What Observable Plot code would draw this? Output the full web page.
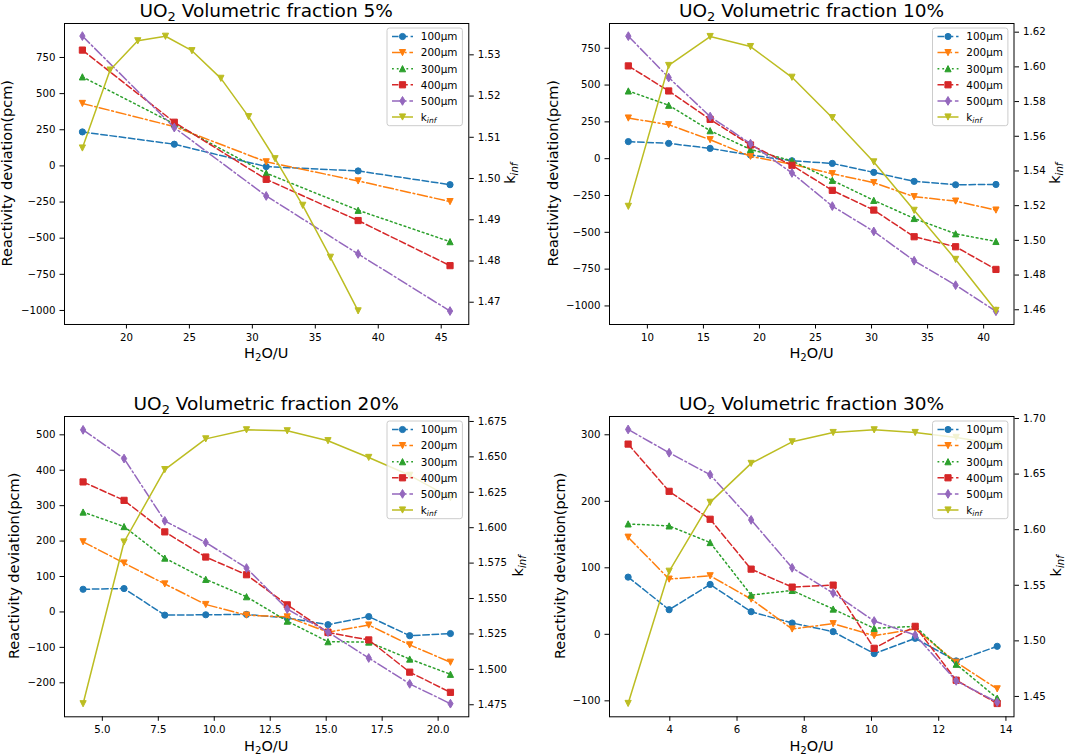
<!DOCTYPE html>
<html><head><meta charset="utf-8">
<script src="https://cdn.jsdelivr.net/npm/d3@7"></script>
<script src="https://cdn.jsdelivr.net/npm/@observablehq/plot@0.6"></script>
<style>
body{margin:0;background:#fff}
#root{position:relative;width:1065px;height:754px;overflow:hidden;font-family:"DejaVu Sans"}
#root svg{position:absolute}
</style>
</head><body><div id="root"></div>
<script>
// ---------- data ----------
const sizes = ["100µm","200µm","300µm","400µm","500µm"];
const fractions = ["5%","10%","20%","30%"];

// 5 %
const x5 = [16.5, 23.8, 31.1, 38.4, 45.7];
const dev5 = [
  [235, 150, -5, -35, -130],
  [432, 272, 28, -104, -247],
  [616, 290, -50, -307, -524],
  [801, 302, -93, -378, -690],
  [898, 265, -208, -609, -1004]
];
const kx5 = [16.5, 18.7, 20.9, 23.1, 25.2, 27.5, 29.7, 31.8, 34.0, 36.2, 38.4];
const k5 = [1.5074, 1.5263, 1.5334, 1.5345, 1.5310, 1.5243, 1.5150, 1.5048, 1.4935, 1.4809, 1.4679];

// 10 %
const x10 = [8.3, 11.9, 15.6, 19.2, 22.9, 26.5, 30.2, 33.8, 37.5, 41.1];
const dev10 = [
  [116, 104, 70, 25, -14, -32, -93, -154, -177, -175],
  [276, 231, 129, 16, -38, -102, -163, -258, -288, -349],
  [460, 363, 190, 63, -15, -147, -283, -406, -510, -562],
  [630, 460, 267, 93, -45, -215, -349, -530, -598, -752],
  [832, 551, 286, 102, -97, -322, -494, -693, -859, -1036]
];
const k10 = [1.5196, 1.6008, 1.6175, 1.6117, 1.5940, 1.5707, 1.5452, 1.5173, 1.4890, 1.4596];

// 20 %
const x20 = [4.14, 5.97, 7.79, 9.62, 11.44, 13.26, 15.08, 16.9, 18.73, 20.55];
const dev20 = [
  [64, 66, -9, -8, -7, -17, -36, -13, -67, -61],
  [198, 138, 79, 21, -9, -14, -57, -37, -93, -142],
  [282, 241, 152, 92, 43, -26, -84, -85, -133, -176],
  [367, 315, 226, 155, 105, 20, -58, -79, -170, -227],
  [514, 433, 257, 196, 124, 8, -57, -130, -203, -259]
];
const k20 = [1.4757, 1.5899, 1.6410, 1.6627, 1.6691, 1.6684, 1.6614, 1.6496, 1.6370, 1.6212];

// 30 %
const x30 = [2.76, 3.98, 5.2, 6.42, 7.64, 8.86, 10.08, 11.3, 12.52, 13.74];
const dev30 = [
  [86, 37, 75, 34, 17, 4, -29, -6, -40, -18],
  [146, 83, 88, 53, 8, 16, -2, 8, -42, -82],
  [166, 163, 138, 59, 66, 38, 9, 12, -45, -96],
  [286, 215, 173, 98, 71, 74, -21, 12, -69, -104],
  [308, 273, 240, 172, 100, 62, 20, -1, -70, -102]
];
const k30 = [1.4437, 1.5626, 1.6246, 1.6596, 1.6790, 1.6874, 1.6898, 1.6874, 1.6830, 1.6770];

// tick values
const xTicks5 = [20, 25, 30, 35, 40, 45];
const xTicks10 = [10, 15, 20, 25, 30, 35, 40];
const xTicks20 = [5, 7.5, 10, 12.5, 15, 17.5, 20];
const xTicks30 = [4, 6, 8, 10, 12, 14];
const yTicksBig = [-1000, -750, -500, -250, 0, 250, 500, 750];
const yTicks20 = [-200, -100, 0, 100, 200, 300, 400, 500];
const yTicks30 = [-100, 0, 100, 200, 300];
const kTicks5 = [1.47, 1.48, 1.49, 1.50, 1.51, 1.52, 1.53];
const kTicks10 = [1.46, 1.48, 1.50, 1.52, 1.54, 1.56, 1.58, 1.60, 1.62];
const kTicks20 = [1.475, 1.5, 1.525, 1.55, 1.575, 1.6, 1.625, 1.65, 1.675];
const kTicks30 = [1.45, 1.5, 1.55, 1.6, 1.65, 1.7];

// ---------- styles ----------
const FONT = "DejaVu Sans";
const colors = ["#1f77b4", "#ff7f0e", "#2ca02c", "#d62728", "#9467bd"];
const kColor = "#bcbd22";
const markers = ["circle", "triDown", "triUp", "square", "thinDiamond"];
const dashKinds = ["dashed", "dashdot", "dotted", "dashed", "dashdot"];
const DASH = {dashed: "6.5,2.8", dashdot: "10,2.8,1.8,2.8", dotted: "1.8,3", solid: null};
const MS = 6.2;

function drawShape(kind, ctx, ms) {
  const h = ms / 2;
  if (kind === "circle") { ctx.moveTo(h, 0); ctx.arc(0, 0, h, 0, 2 * Math.PI); }
  else if (kind === "square") { ctx.moveTo(-h, -h); ctx.lineTo(h, -h); ctx.lineTo(h, h); ctx.lineTo(-h, h); ctx.closePath(); }
  else if (kind === "triDown") { ctx.moveTo(0, h); ctx.lineTo(-h, -h); ctx.lineTo(h, -h); ctx.closePath(); }
  else if (kind === "triUp") { ctx.moveTo(0, -h); ctx.lineTo(-h, h); ctx.lineTo(h, h); ctx.closePath(); }
  else if (kind === "thinDiamond") { const v = ms * 0.7071, w = v * 0.6; ctx.moveTo(0, -v); ctx.lineTo(w, 0); ctx.lineTo(0, v); ctx.lineTo(-w, 0); ctx.closePath(); }
}
const SYM = {};
for (const k of ["circle", "square", "triDown", "triUp", "thinDiamond"]) {
  SYM[k] = {draw(ctx, size) { drawShape(k, ctx, 2 * Math.sqrt(size / Math.PI)); }};
}

// ---------- panel layout ----------
const panels = [
  {frac: fractions[0], px0: 64, py0: 22.7, px1: 468.3, py1: 323.7, xDomain: [15.08, 47.19], yDomain: [-1097, 985], kDomain: [1.4646, 1.5376],
   xTicks: xTicks5, yTicks: yTicksBig, kTicks: kTicks5, xFmt: "d", kFmt: ".2f", x: x5, dev: dev5, kx: kx5, k: k5, yOff: 51.7, kOff: 46.2},
  {frac: fractions[1], px0: 609.3, py0: 22.7, px1: 1013.8, py1: 323.7, xDomain: [6.62, 42.71], yDomain: [-1126, 918], kDomain: [1.4515, 1.625],
   xTicks: xTicks10, yTicks: yTicksBig, kTicks: kTicks10, xFmt: "d", kFmt: ".2f", x: x10, dev: dev10, kx: x10, k: k10, yOff: 51, kOff: 46},
  {frac: fractions[2], px0: 64, py0: 415.7, px1: 468.3, py1: 716, xDomain: [3.31, 21.37], yDomain: [-296, 551.7], kDomain: [1.4665, 1.6785],
   xTicks: xTicks20, yTicks: yTicks20, kTicks: kTicks20, xFmt: ".1f", kFmt: ".3f", x: x20, dev: dev20, kx: x20, k: k20, yOff: 45, kOff: 54.7},
  {frac: fractions[3], px0: 609.3, py0: 415.7, px1: 1013.8, py1: 716, xDomain: [2.206, 14.24], yDomain: [-124, 327.5], kDomain: [1.4317, 1.7018],
   xTicks: xTicks30, yTicks: yTicks30, kTicks: kTicks30, xFmt: "d", kFmt: ".2f", x: x30, dev: dev30, kx: x30, k: k30, yOff: 44.8, kOff: 47}
];

const root = document.getElementById("root");
const mL = 60, mR = 60, mT = 30, mB = 40;
const axisOpts = {tickSize: 4.5, tickPadding: 4.5, label: null};

for (const p of panels) {
  const W = p.px1 - p.px0 + mL + mR, H = p.py1 - p.py0 + mT + mB;
  const common = {
    width: W, height: H, marginLeft: mL, marginRight: mR, marginTop: mT, marginBottom: mB,
    style: {fontFamily: FONT, fontSize: "10.2px", color: "black", background: "transparent", maxWidth: "none", overflow: "visible"}
  };
  const marks = [];
  p.dev.forEach((vals, i) => {
    const rows = p.x.map((x, j) => ({x, v: vals[j]}));
    marks.push(Plot.line(rows, {x: "x", y: "v", stroke: colors[i], strokeWidth: 1.5, strokeDasharray: DASH[dashKinds[i]]}));
    marks.push(Plot.dot(rows, {x: "x", y: "v", symbol: SYM[markers[i]], r: MS / 2, fill: colors[i], stroke: colors[i], strokeWidth: 1}));
  });
  const main = Plot.plot({
    ...common,
    x: {domain: p.xDomain},
    y: {domain: p.yDomain},
    marks: [
      Plot.axisX({...axisOpts, ticks: p.xTicks, tickFormat: d3.format(p.xFmt)}),
      Plot.axisY({...axisOpts, anchor: "left", ticks: p.yTicks, tickFormat: d3.format("d")}),
      ...marks,
      Plot.frame({stroke: "black", strokeWidth: 1})
    ]
  });
  const kRows = p.kx.map((x, j) => ({x, k: p.k[j]}));
  const twin = Plot.plot({
    ...common,
    x: {domain: p.xDomain, axis: null},
    y: {domain: p.kDomain},
    marks: [
      Plot.axisY({...axisOpts, anchor: "right", ticks: p.kTicks, tickFormat: d3.format(p.kFmt)}),
      Plot.line(kRows, {x: "x", y: "k", stroke: kColor, strokeWidth: 1.5}),
      Plot.dot(kRows, {x: "x", y: "k", symbol: SYM.triDown, r: MS / 2, fill: kColor, stroke: kColor, strokeWidth: 1})
    ]
  });
  for (const s of [main, twin]) {
    s.style.left = (p.px0 - mL) + "px";
    s.style.top = (p.py0 - mT) + "px";
    root.appendChild(s);
  }
}

// ---------- overlay: titles, axis labels, legends ----------
const ov = d3.select(root).append("svg")
  .attr("width", 1065).attr("height", 754)
  .style("left", "0px").style("top", "0px")
  .style("font-family", FONT).style("white-space", "pre");

for (const p of panels) {
  const cx = (p.px0 + p.px1) / 2, cy = (p.py0 + p.py1) / 2;
  // title
  const t = ov.append("text").attr("x", cx).attr("y", p.py0 - 5.4).attr("text-anchor", "middle").attr("font-size", 18.5).attr("fill", "black");
  t.append("tspan").text("UO");
  t.append("tspan").attr("font-size", 13).attr("dy", 4).text("2");
  t.append("tspan").attr("dy", -4).text(" Volumetric fraction " + p.frac);
  // x label
  const xl = ov.append("text").attr("x", cx).attr("y", p.py1 + 34.5).attr("text-anchor", "middle").attr("font-size", 14.5).attr("fill", "black");
  xl.append("tspan").text("H");
  xl.append("tspan").attr("font-size", 10.2).attr("dy", 3).text("2");
  xl.append("tspan").attr("dy", -3).text("O/U");
  // left y label
  ov.append("text").attr("transform", `translate(${p.px0 - p.yOff},${cy}) rotate(-90)`)
    .attr("text-anchor", "middle").attr("font-size", 14.5).attr("fill", "black")
    .text("Reactivity deviation(pcm)");
  // right y label
  const kl = ov.append("text").attr("transform", `translate(${p.px1 + p.kOff},${cy}) rotate(-90)`)
    .attr("text-anchor", "middle").attr("font-size", 14.5).attr("fill", "black");
  kl.append("tspan").text("k");
  kl.append("tspan").attr("font-size", 10.2).attr("font-style", "italic").attr("dy", 3).text("inf");

  // legend
  const lw = 75.4, lh = 97.7;
  const lx = p.px1 - 5.9 - lw, ly = p.py0 + 5.3;
  const lg = ov.append("g");
  lg.append("rect").attr("x", lx).attr("y", ly).attr("width", lw).attr("height", lh).attr("rx", 2.5)
    .attr("fill", "white").attr("fill-opacity", 0.8).attr("stroke", "#cccccc").attr("stroke-width", 1);
  const entries = sizes.map((s, i) => ({label: s, color: colors[i], marker: markers[i], dash: DASH[dashKinds[i]]}))
    .concat([{label: "k", sub: "inf", color: kColor, marker: "triDown", dash: null}]);
  entries.forEach((e, i) => {
    const yy = ly + 8.5 + i * 16.1;
    lg.append("line").attr("x1", lx + 5).attr("x2", lx + 26).attr("y1", yy).attr("y2", yy)
      .attr("stroke", e.color).attr("stroke-width", 1.5).attr("stroke-dasharray", e.dash);
    const path = d3.path();
    drawShape(e.marker, path, MS);
    lg.append("path").attr("d", path.toString()).attr("transform", `translate(${lx + 15.5},${yy})`)
      .attr("fill", e.color).attr("stroke", e.color).attr("stroke-width", 1);
    const tx = lg.append("text").attr("x", lx + 33.8).attr("y", yy + 3.8).attr("font-size", 10.4).attr("fill", "black");
    tx.append("tspan").text(e.label);
    if (e.sub) tx.append("tspan").attr("font-size", 7.5).attr("font-style", "italic").attr("dy", 2.5).text(e.sub);
  });
}
</script></body></html>
